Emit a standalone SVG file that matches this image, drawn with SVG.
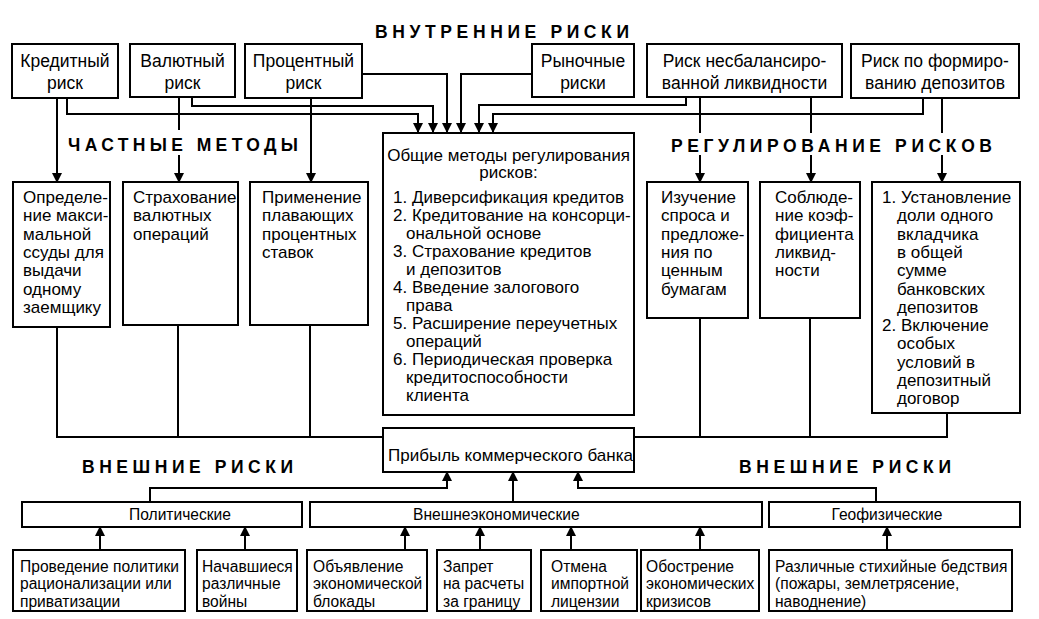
<svg xmlns="http://www.w3.org/2000/svg" width="1039" height="619" viewBox="0 0 1039 619">
<style>
.box{fill:#fff;stroke:#000;stroke-width:2}
.t{font-family:"Liberation Sans",Arial,sans-serif;font-size:17px;fill:#000}
.tc{font-family:"Liberation Sans",Arial,sans-serif;font-size:17.5px;fill:#000;text-anchor:middle}
.ts{font-family:"Liberation Sans",Arial,sans-serif;font-size:15.6px;fill:#000}
.h{font-family:"Liberation Sans",Arial,sans-serif;font-size:17.5px;font-weight:bold;fill:#000}
.c{fill:none;stroke:#000;stroke-width:2}
</style>
<defs>
<marker id="ar" markerUnits="userSpaceOnUse" viewBox="0 0 10 10" refX="9" refY="5" markerWidth="11" markerHeight="10" orient="auto">
<path d="M0,0 L10,5 L0,10 z" fill="#000"/>
</marker>
</defs>
<rect width="1039" height="619" fill="#fff"/>

<g id="headings">
<text class="h" x="375" y="38" textLength="254" lengthAdjust="spacing">ВНУТРЕННИЕ РИСКИ</text>
<text class="h" x="68" y="151" textLength="230" lengthAdjust="spacing">ЧАСТНЫЕ МЕТОДЫ</text>
<text class="h" x="671" y="152" textLength="321" lengthAdjust="spacing">РЕГУЛИРОВАНИЕ РИСКОВ</text>
<text class="h" x="82" y="473" textLength="211" lengthAdjust="spacing">ВНЕШНИЕ РИСКИ</text>
<text class="h" x="739" y="473" textLength="212" lengthAdjust="spacing">ВНЕШНИЕ РИСКИ</text>
</g>

<g id="connectors">
<path class="c" d="M57,98 V182" marker-end="url(#ar)"/>
<path class="c" d="M67,98 V114 H418 V132" marker-end="url(#ar)"/>
<path class="c" d="M179,97 V130"/>
<path class="c" d="M179,155 V182" marker-end="url(#ar)"/>
<path class="c" d="M192,97 V106 H433 V132" marker-end="url(#ar)"/>
<path class="c" d="M311,98 V182" marker-end="url(#ar)"/>
<path class="c" d="M362,74 H447 V132" marker-end="url(#ar)"/>
<path class="c" d="M532,74 H461 V132" marker-end="url(#ar)"/>
<path class="c" d="M686,97 V105 H479 V132" marker-end="url(#ar)"/>
<path class="c" d="M923,98 V114 H493 V132" marker-end="url(#ar)"/>
<path class="c" d="M700,97 V133"/>
<path class="c" d="M700,155 V182" marker-end="url(#ar)"/>
<path class="c" d="M811,97 V133"/>
<path class="c" d="M811,155 V182" marker-end="url(#ar)"/>
<path class="c" d="M942,98 V133"/>
<path class="c" d="M942,155 V182" marker-end="url(#ar)"/>
<path class="c" d="M57,327 V437 H383 M178,325 V437 M310,325 V437"/>
<path class="c" d="M634,437 H947 V413 M700,318 V437 M810,318 V437"/>
<path class="c" d="M150,502 V488 H447 V472" marker-end="url(#ar)"/>
<path class="c" d="M513,502 V472" marker-end="url(#ar)"/>
<path class="c" d="M876,502 V488 H578 V472" marker-end="url(#ar)"/>
<path class="c" d="M100,550 V527" marker-end="url(#ar)"/>
<path class="c" d="M245,550 V527" marker-end="url(#ar)"/>
<path class="c" d="M405,550 V527" marker-end="url(#ar)"/>
<path class="c" d="M480,550 V527" marker-end="url(#ar)"/>
<path class="c" d="M571,550 V527" marker-end="url(#ar)"/>
<path class="c" d="M700,550 V527" marker-end="url(#ar)"/>
<path class="c" d="M887,550 V527" marker-end="url(#ar)"/>
</g>

<g id="n-credit"><rect class="box" x="12" y="44" width="106" height="54"/>
<text class="tc" x="65" y="67">Кредитный</text><text class="tc" x="65" y="89">риск</text></g>
<g id="n-currency"><rect class="box" x="130" y="44" width="105" height="53"/>
<text class="tc" x="182.5" y="67">Валютный</text><text class="tc" x="182.5" y="89">риск</text></g>
<g id="n-interest"><rect class="box" x="245" y="44" width="117" height="54"/>
<text class="tc" x="303.5" y="67">Процентный</text><text class="tc" x="303.5" y="89">риск</text></g>
<g id="n-market"><rect class="box" x="532" y="44" width="102" height="53"/>
<text class="tc" x="583" y="67">Рыночные</text><text class="tc" x="583" y="89">риски</text></g>
<g id="n-liquidity"><rect class="box" x="647" y="44" width="195" height="53"/>
<text class="tc" x="744.5" y="67">Риск несбалансиро-</text><text class="tc" x="744.5" y="89">ванной ликвидности</text></g>
<g id="n-deposits"><rect class="box" x="851" y="44" width="168" height="54"/>
<text class="tc" x="935" y="67">Риск по формиро-</text><text class="tc" x="935" y="89">ванию депозитов</text></g>

<g id="n-maxloan"><rect class="box" x="13" y="182" width="97" height="145"/>
<text class="t" x="23" y="203">Определе-<tspan x="23" dy="18.3">ние макси-</tspan><tspan x="23" dy="18.3">мальной</tspan><tspan x="23" dy="18.3">ссуды для</tspan><tspan x="23" dy="18.3">выдачи</tspan><tspan x="23" dy="18.3">одному</tspan><tspan x="23" dy="18.3">заемщику</tspan></text></g>
<g id="n-insure"><rect class="box" x="123" y="182" width="115" height="143"/>
<text class="t" x="133" y="203">Страхование<tspan x="133" dy="18.3">валютных</tspan><tspan x="133" dy="18.3">операций</tspan></text></g>
<g id="n-floating"><rect class="box" x="250" y="182" width="118" height="143"/>
<text class="t" x="262" y="203">Применение<tspan x="262" dy="18.3">плавающих</tspan><tspan x="262" dy="18.3">процентных</tspan><tspan x="262" dy="18.3">ставок</tspan></text></g>

<g id="n-general"><rect class="box" x="383" y="133" width="251" height="282"/>
<text class="t" x="508.5" y="161" text-anchor="middle">Общие методы регулирования</text>
<text class="t" x="508.5" y="178" text-anchor="middle">рисков:</text>
<text class="t" x="393" y="203">1. Диверсификация кредитов</text>
<text class="t" x="393" y="221">2. Кредитование на консорци-</text>
<text class="t" x="406" y="239">ональной основе</text>
<text class="t" x="393" y="257">3. Страхование кредитов</text>
<text class="t" x="406" y="275">и депозитов</text>
<text class="t" x="393" y="293">4. Введение залогового</text>
<text class="t" x="406" y="311">права</text>
<text class="t" x="393" y="329">5. Расширение переучетных</text>
<text class="t" x="406" y="347">операций</text>
<text class="t" x="393" y="365">6. Периодическая проверка</text>
<text class="t" x="406" y="383">кредитоспособности</text>
<text class="t" x="406" y="401">клиента</text></g>

<g id="n-securities"><rect class="box" x="647" y="182" width="101" height="136"/>
<text class="t" x="661" y="203">Изучение<tspan x="661" dy="18.3">спроса и</tspan><tspan x="661" dy="18.3">предложе-</tspan><tspan x="661" dy="18.3">ния по</tspan><tspan x="661" dy="18.3">ценным</tspan><tspan x="661" dy="18.3">бумагам</tspan></text></g>
<g id="n-ratio"><rect class="box" x="760" y="182" width="100" height="136"/>
<text class="t" x="775" y="203">Соблюде-<tspan x="775" dy="18.3">ние коэф-</tspan><tspan x="775" dy="18.3">фициента</tspan><tspan x="775" dy="18.3">ликвид-</tspan><tspan x="775" dy="18.3">ности</tspan></text></g>
<g id="n-depositor"><rect class="box" x="872" y="182" width="148" height="231"/>
<text class="t" x="882" y="203">1. Установление</text>
<text class="t" x="897" y="221.3">доли одного<tspan x="897" dy="18.3">вкладчика</tspan><tspan x="897" dy="18.3">в общей</tspan><tspan x="897" dy="18.3">сумме</tspan><tspan x="897" dy="18.3">банковских</tspan><tspan x="897" dy="18.3">депозитов</tspan></text>
<text class="t" x="882" y="331.1">2. Включение</text>
<text class="t" x="897" y="349.4">особых<tspan x="897" dy="18.3">условий в</tspan><tspan x="897" dy="18.3">депозитный</tspan><tspan x="897" dy="18.3">договор</tspan></text></g>

<g id="n-profit"><rect class="box" x="383" y="428" width="251" height="44"/>
<text class="t" x="388" y="461">Прибыль коммерческого банка</text></g>

<g id="n-political"><rect class="box" x="22" y="502" width="280" height="25"/>
<text class="ts" x="180" y="520" text-anchor="middle">Политические</text></g>
<g id="n-foreign"><rect class="box" x="310" y="502" width="452" height="25"/>
<text class="ts" x="413" y="520">Внешнеэкономические</text></g>
<g id="n-geo"><rect class="box" x="769" y="502" width="251" height="25"/>
<text class="ts" x="887" y="520" text-anchor="middle">Геофизические</text></g>

<g id="n-privat"><rect class="box" x="13" y="550" width="172" height="61"/>
<text class="ts" x="20" y="572">Проведение политики<tspan x="20" dy="17.3">рационализации или</tspan><tspan x="20" dy="17.3">приватизации</tspan></text></g>
<g id="n-wars"><rect class="box" x="197" y="550" width="100" height="61"/>
<text class="ts" x="202" y="572">Начавшиеся<tspan x="202" dy="17.3">различные</tspan><tspan x="202" dy="17.3">войны</tspan></text></g>
<g id="n-blockade"><rect class="box" x="307" y="550" width="120" height="61"/>
<text class="ts" x="313" y="572">Объявление<tspan x="313" dy="17.3">экономической</tspan><tspan x="313" dy="17.3">блокады</tspan></text></g>
<g id="n-ban"><rect class="box" x="437" y="550" width="94" height="61"/>
<text class="ts" x="443" y="572">Запрет<tspan x="443" dy="17.3">на расчеты</tspan><tspan x="443" dy="17.3">за границу</tspan></text></g>
<g id="n-license"><rect class="box" x="541" y="550" width="96" height="61"/>
<text class="ts" x="551" y="572">Отмена<tspan x="551" dy="17.3">импортной</tspan><tspan x="551" dy="17.3">лицензии</tspan></text></g>
<g id="n-crisis"><rect class="box" x="641" y="550" width="118" height="61"/>
<text class="ts" x="646" y="572">Обострение<tspan x="646" dy="17.3">экономических</tspan><tspan x="646" dy="17.3">кризисов</tspan></text></g>
<g id="n-disaster"><rect class="box" x="769" y="550" width="243" height="61"/>
<text class="ts" x="775" y="572">Различные стихийные бедствия<tspan x="775" dy="17.3">(пожары, землетрясение,</tspan><tspan x="775" dy="17.3">наводнение)</tspan></text></g>
</svg>
